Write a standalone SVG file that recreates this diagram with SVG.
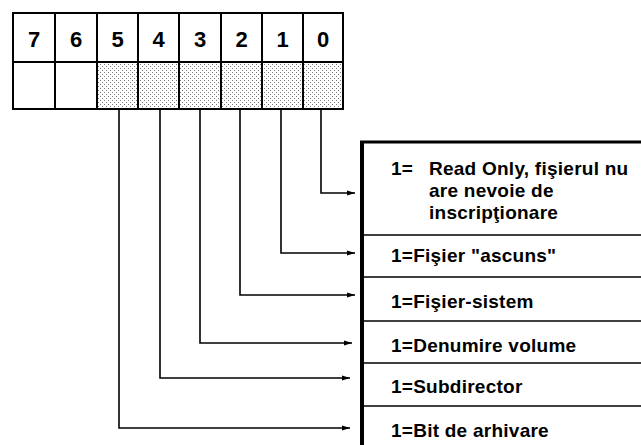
<svg xmlns="http://www.w3.org/2000/svg" width="641" height="445" viewBox="0 0 641 445">
<style>
.grid{fill:none;stroke:#000;stroke-width:2}
.digit{font-family:"Liberation Sans",Arial,sans-serif;font-weight:bold;font-size:22px;text-anchor:middle;fill:#000}
.lbl{font-family:"Liberation Sans",Arial,sans-serif;font-weight:bold;font-size:19px;letter-spacing:0.25px;fill:#000}
.conn{fill:none;stroke:#000;stroke-width:1.6;marker-end:url(#arr)}
.div{stroke:#000;stroke-width:1.6}
</style>
<defs>
<pattern id="dots" width="4" height="4" patternUnits="userSpaceOnUse">
<rect width="4" height="4" fill="#fff"/>
<rect x="0" y="0" width="1" height="1" fill="#777"/>
<rect x="2" y="2" width="1" height="1" fill="#777"/>
</pattern>
<marker id="arr" markerWidth="8" markerHeight="6" refX="8" refY="3" orient="auto" markerUnits="userSpaceOnUse">
<path d="M0,0.5 L8,3 L0,5.5 Z" fill="#000"/>
</marker>
</defs>
<rect width="641" height="445" fill="#fff"/>
<g id="register">
<rect x="97" y="62" width="246" height="47" fill="url(#dots)"/>
<rect class="grid" x="13" y="13" width="330" height="96"/>
<line class="grid" x1="13" y1="62" x2="343" y2="62"/>
<line class="grid" x1="55" y1="13" x2="55" y2="109"/>
<line class="grid" x1="97" y1="13" x2="97" y2="109"/>
<line class="grid" x1="138" y1="13" x2="138" y2="109"/>
<line class="grid" x1="179" y1="13" x2="179" y2="109"/>
<line class="grid" x1="221" y1="13" x2="221" y2="109"/>
<line class="grid" x1="262" y1="13" x2="262" y2="109"/>
<line class="grid" x1="303" y1="13" x2="303" y2="109"/>
<text class="digit" x="34" y="47">7</text>
<text class="digit" x="76" y="47">6</text>
<text class="digit" x="117.5" y="47">5</text>
<text class="digit" x="158.5" y="47">4</text>
<text class="digit" x="200" y="47">3</text>
<text class="digit" x="241.5" y="47">2</text>
<text class="digit" x="282.5" y="47">1</text>
<text class="digit" x="323" y="47">0</text>
</g>
<g id="connectors">
<polyline class="conn" points="321,109 321,193 355,193"/>
<polyline class="conn" points="281,109 281,253 355,253"/>
<polyline class="conn" points="240,109 240,295 355,295"/>
<polyline class="conn" points="200,109 200,343 352,343"/>
<polyline class="conn" points="160,109 160,378 350,378"/>
<polyline class="conn" points="119,109 119,428 350,428"/>
</g>
<g id="table">
<line x1="362" y1="141" x2="362" y2="445" stroke="#000" stroke-width="4"/>
<line x1="360" y1="142" x2="641" y2="142" stroke="#000" stroke-width="3"/>
<line class="div" x1="362" y1="235" x2="641" y2="235"/>
<line class="div" x1="362" y1="277" x2="641" y2="277"/>
<line class="div" x1="362" y1="321" x2="641" y2="321"/>
<line class="div" x1="362" y1="363" x2="641" y2="363"/>
<line class="div" x1="362" y1="406" x2="641" y2="406"/>
</g>
<g id="bit0">
<text class="lbl" x="391" y="175">1=</text>
<text class="lbl" x="429" y="175">Read Only, fişierul nu</text>
<text class="lbl" x="429" y="197">are nevoie de</text>
<text class="lbl" x="429" y="219">inscripţionare</text>
</g>
<g id="bit1"><text class="lbl" x="391" y="262">1=Fişier "ascuns"</text></g>
<g id="bit2"><text class="lbl" x="391" y="308">1=Fişier-sistem</text></g>
<g id="bit3"><text class="lbl" x="391" y="352">1=Denumire volume</text></g>
<g id="bit4"><text class="lbl" x="391" y="393">1=Subdirector</text></g>
<g id="bit5"><text class="lbl" x="391" y="437">1=Bit de arhivare</text></g>
</svg>
